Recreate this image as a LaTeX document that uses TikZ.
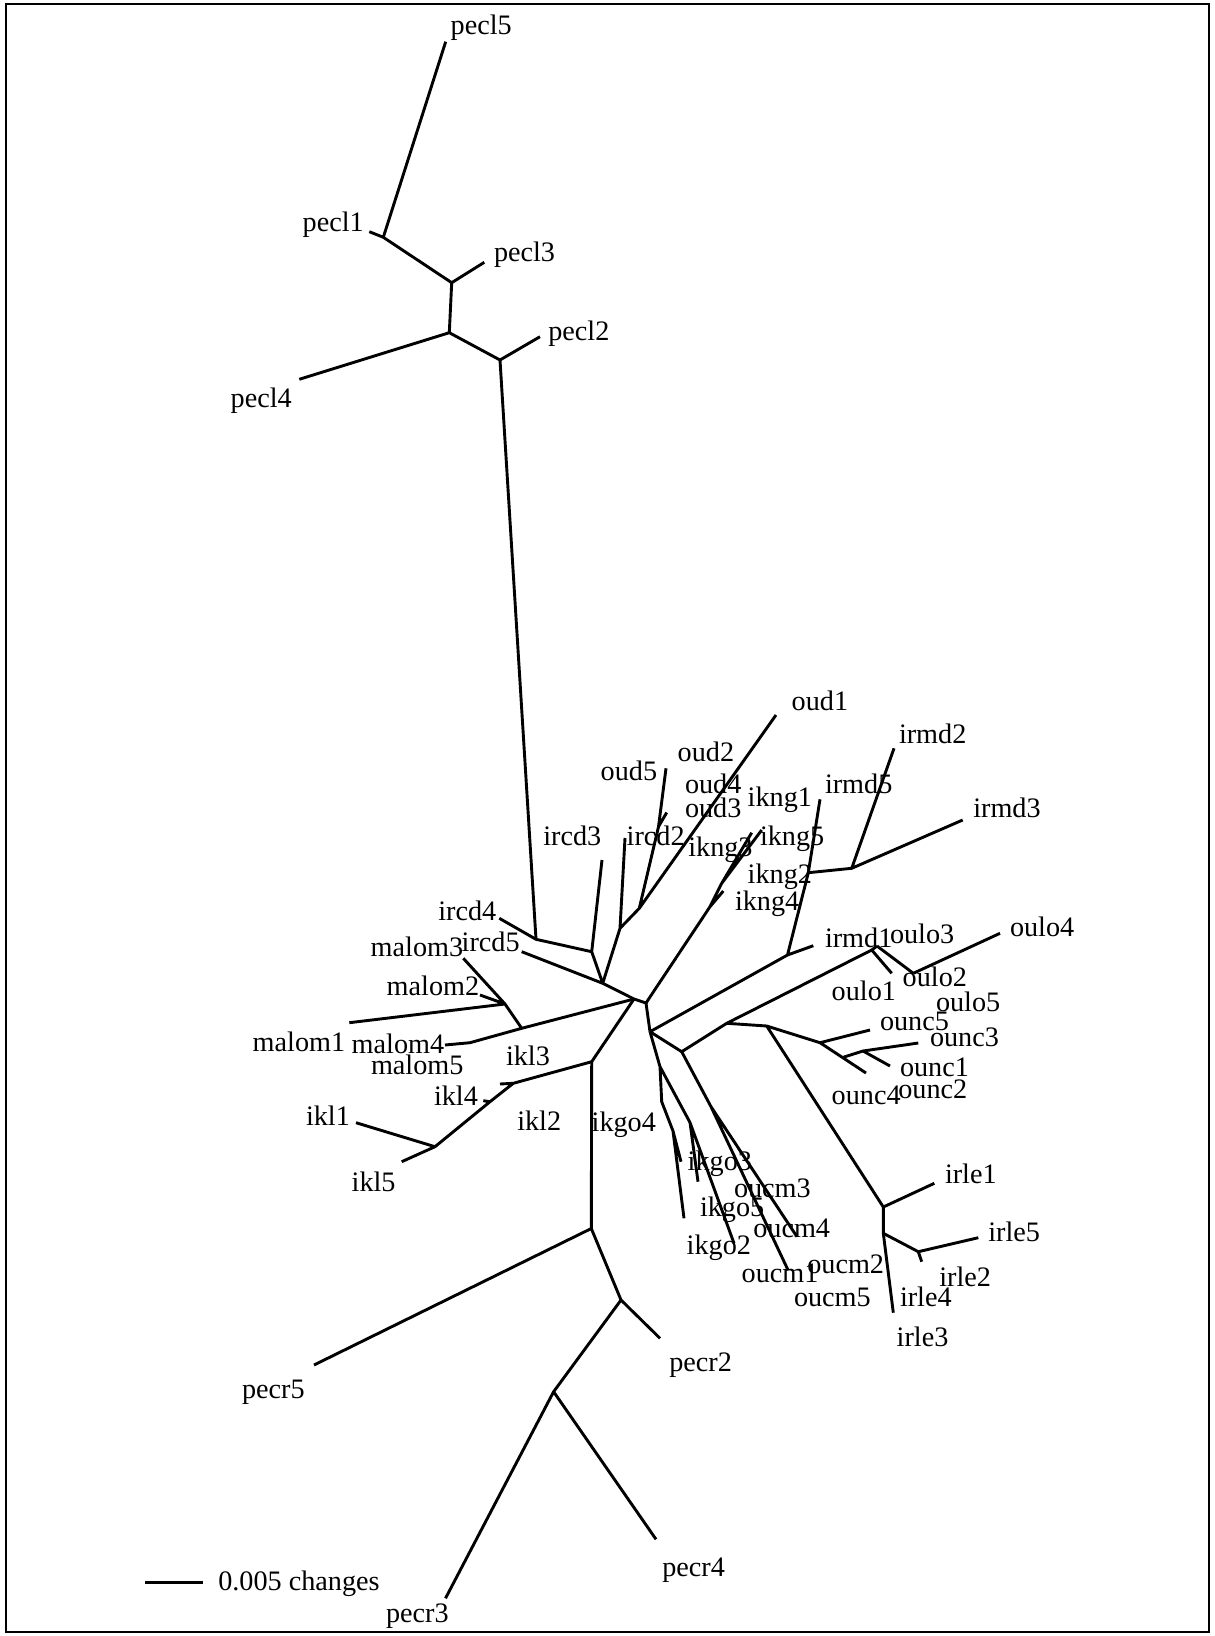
\documentclass[tikz,border=0pt]{standalone}
\usepackage{fontspec}
\setmainfont{Liberation Serif}
\begin{document}
\begin{tikzpicture}[x=0.5pt,y=-0.5pt,
  br/.style={line width=1.45pt},
  lab/.style={anchor=base west,inner sep=0pt,outer sep=0pt,font=\fontsize{14.1pt}{16pt}\selectfont}]
\useasboundingbox (0,0) rectangle (1214,1636);
\draw[line width=0.8pt] (6,4) rectangle (1209,1632);
% top cluster
\coordinate (pecl5t) at (445.7,41.7);
\coordinate (c1) at (383.3,237.3);
\coordinate (pecl1t) at (369.3,231.7);
\coordinate (c2) at (451.7,282.7);
\coordinate (pecl3t) at (484.3,262.3);
\coordinate (c3) at (449.3,332.7);
\coordinate (pecl4t) at (299.3,379.3);
\coordinate (c4) at (500,360);
\coordinate (pecl2t) at (540,336.7);
\coordinate (D) at (536,939.3);
\coordinate (ircd4t) at (499.3,918.3);
\coordinate (E) at (591.7,951.7);
\coordinate (ircd3t) at (602,860);
\coordinate (F) at (602.7,983.3);
\coordinate (ircd5t) at (521.7,951.7);
\coordinate (G) at (620,928.3);
\coordinate (ircd2t) at (625,838);
\coordinate (H) at (639.3,908.3);
\coordinate (I) at (658.5,826.7);
\coordinate (oud5t) at (666,768.3);
\coordinate (oudst) at (666.7,812.5);
\coordinate (oud1t) at (776,715);
\coordinate (P) at (634,999);
\coordinate (J) at (646,1003);
\coordinate (K1) at (710,906.7);
\coordinate (ikng4t) at (723.3,891);
\coordinate (K2) at (721.7,883.3);
\coordinate (ikngat) at (751.7,832.7);
\coordinate (ikngbt) at (761.7,830);
\coordinate (Q) at (650,1031.7);
\coordinate (L) at (787.5,955);
\coordinate (irmd1t) at (813.3,945.7);
\coordinate (N) at (808.3,872.7);
\coordinate (irmd5t) at (820,799.3);
\coordinate (M) at (851.7,868.3);
\coordinate (irmd2t) at (894,748.3);
\coordinate (irmd3t) at (962.7,820);
\coordinate (R) at (681.7,1051.7);
\coordinate (X) at (726.7,1023.3);
\coordinate (O1) at (871.7,950);
\coordinate (oulo1t) at (891.7,973.3);
\coordinate (O2) at (877,946);
\coordinate (O3) at (913.3,973.3);
\coordinate (oulo4t) at (1000,933.3);
\coordinate (W) at (766.7,1026);
\coordinate (Y) at (820,1042.7);
\coordinate (ounc5t) at (870,1030);
\coordinate (Z) at (842.5,1057.5);
\coordinate (ounc4t) at (866,1073);
\coordinate (Z2) at (863,1051);
\coordinate (ounc3t) at (918.3,1043);
\coordinate (ounc1t) at (890,1066);
\coordinate (Ir1) at (883.3,1207);
\coordinate (irle1t) at (934.3,1183.3);
\coordinate (Ir2) at (883.3,1233.3);
\coordinate (Ir3) at (918.3,1251.7);
\coordinate (irle5t) at (978.3,1237.7);
\coordinate (irle2t) at (921.7,1261.7);
\coordinate (irle3t) at (893.3,1312.7);
\coordinate (S) at (660,1066.7);
\coordinate (T) at (661.7,1101.7);
\coordinate (T2) at (673,1131);
\coordinate (ikgoat) at (681,1161.7);
\coordinate (ikgobt) at (684,1218.3);
\coordinate (U) at (690,1122.5);
\coordinate (ikgoct) at (698,1181.7);
\coordinate (ikgodt) at (734,1243.3);
\coordinate (V) at (711,1106.7);
\coordinate (oucm1t) at (788,1270);
\coordinate (oucm4t) at (797,1236.7);
\coordinate (Ma) at (521.7,1028.3);
\coordinate (Mb) at (505,1004);
\coordinate (malom3t) at (463.3,958.3);
\coordinate (malom1t) at (349.3,1022.7);
\coordinate (malom2t) at (480,995);
\coordinate (Mc) at (470,1042.7);
\coordinate (malom4t) at (445,1045);
\coordinate (Ka) at (591.7,1061.7);
\coordinate (Kb) at (513.3,1083.3);
\coordinate (ikl3t) at (500,1084);
\coordinate (Kc) at (490,1101.7);
\coordinate (ikl4t) at (483.3,1100.7);
\coordinate (Kd) at (435,1146.7);
\coordinate (ikl1t) at (356,1122.7);
\coordinate (ikl5t) at (401.7,1161.7);
\coordinate (Pa) at (591.3,1228.5);
\coordinate (pecr5t) at (314,1365);
\coordinate (Pb) at (621,1300);
\coordinate (pecr2t) at (660,1338.3);
\coordinate (Pc) at (553.6,1391.7);
\coordinate (pecr4t) at (656,1539.3);
\coordinate (pecr3t) at (445.5,1598.3);
\coordinate (sbL) at (145,1582.7);
\coordinate (sbR) at (203,1582.7);
% branches
\draw[br] (pecl5t)--(c1) (pecl1t)--(c1) (c1)--(c2) (c2)--(pecl3t) (c2)--(c3) (c3)--(pecl4t) (c3)--(c4) (c4)--(pecl2t) (c4)--(D);
\draw[br] (D)--(ircd4t) (D)--(E) (E)--(ircd3t) (E)--(F) (F)--(ircd5t) (F)--(G) (G)--(ircd2t) (G)--(H) (H)--(I) (I)--(oud5t) (I)--(oudst) (H)--(oud1t);
\draw[br] (F)--(P) (P)--(J) (J)--(K1) (K1)--(ikng4t) (K1)--(K2) (K2)--(ikngat) (K2)--(ikngbt);
\draw[br] (J)--(Q) (Q)--(L) (L)--(irmd1t) (L)--(N) (N)--(irmd5t) (N)--(M) (M)--(irmd2t) (M)--(irmd3t);
\draw[br] (Q)--(R) (R)--(X) (X)--(O1) (O1)--(oulo1t) (O1)--(O2) (O2)--(O3) (O3)--(oulo4t);
\draw[br] (X)--(W) (W)--(Y) (Y)--(ounc5t) (Y)--(Z) (Z)--(ounc4t) (Z)--(Z2) (Z2)--(ounc3t) (Z2)--(ounc1t);
\draw[br] (W)--(Ir1) (Ir1)--(irle1t) (Ir1)--(Ir2) (Ir2)--(Ir3) (Ir3)--(irle5t) (Ir3)--(irle2t) (Ir2)--(irle3t);
\draw[br] (Q)--(S) (S)--(T) (T)--(T2) (T2)--(ikgoat) (T2)--(ikgobt) (S)--(U) (U)--(ikgoct) (U)--(ikgodt);
\draw[br] (R)--(V) (V)--(oucm1t) (V)--(oucm4t);
\draw[br] (P)--(Ma) (Ma)--(Mb) (Mb)--(malom3t) (Mb)--(malom1t) (Mb)--(malom2t) (Ma)--(Mc) (Mc)--(malom4t);
\draw[br] (P)--(Ka) (Ka)--(Kb) (Kb)--(ikl3t) (Kb)--(Kc) (Kc)--(ikl4t) (Kc)--(Kd) (Kd)--(ikl1t) (Kd)--(ikl5t);
\draw[br] (Ka)--(Pa) (Pa)--(pecr5t) (Pa)--(Pb) (Pb)--(pecr2t) (Pb)--(Pc) (Pc)--(pecr4t) (Pc)--(pecr3t);
\draw[br] (sbL)--(sbR);
% labels
\node[lab] (lpecl5) at (450.7,35) {pecl5};
\node[lab] (lpecl1) at (302.7,231.7) {pecl1};
\node[lab] (lpecl3) at (494,261.7) {pecl3};
\node[lab] (lpecl2) at (548.3,340.7) {pecl2};
\node[lab] (lpecl4) at (230.7,407.3) {pecl4};
\node[lab] (loud1) at (791.7,710.7) {oud1};
\node[lab] (loud2) at (677.7,761.7) {oud2};
\node[lab] (loud5) at (600.7,780) {oud5};
\node[lab] (loud4) at (685,793.3) {oud4};
\node[lab] (loud3) at (685,817.3) {oud3};
\node[lab] (likng1) at (747.7,806.7) {ikng1};
\node[lab] (lirmd2) at (899,743.3) {irmd2};
\node[lab] (lirmd5) at (825,793.3) {irmd5};
\node[lab] (lirmd3) at (973.3,817.3) {irmd3};
\node[lab] (lircd3) at (543.3,845) {ircd3};
\node[lab] (lircd2) at (626.7,845) {ircd2};
\node[lab] (likng3) at (688.3,856.7) {ikng3};
\node[lab] (likng5) at (760,845) {ikng5};
\node[lab] (likng2) at (747.7,883.3) {ikng2};
\node[lab] (likng4) at (735,910) {ikng4};
\node[lab] (lircd4) at (438.3,920) {ircd4};
\node[lab] (lircd5) at (461.7,951.7) {ircd5};
\node[lab] (lmalom3) at (370.7,956) {malom3};
\node[lab] (lmalom2) at (386.7,995) {malom2};
\node[lab] (lmalom1) at (252.7,1051.7) {malom1};
\node[lab] (lmalom4) at (351.7,1053.3) {malom4};
\node[lab] (lmalom5) at (371,1074) {malom5};
\node[lab] (likl3) at (506,1065) {ikl3};
\node[lab] (likl4) at (434,1105) {ikl4};
\node[lab] (likl1) at (306,1125) {ikl1};
\node[lab] (likl2) at (517.3,1130.7) {ikl2};
\node[lab] (likgo4) at (591.7,1131.7) {ikgo4};
\node[lab] (likl5) at (351.7,1191) {ikl5};
\node[lab] (lirmd1) at (825,947.7) {irmd1};
\node[lab] (loulo3) at (890,943.3) {oulo3};
\node[lab] (loulo4) at (1010,936.7) {oulo4};
\node[lab] (loulo2) at (902.7,986) {oulo2};
\node[lab] (loulo1) at (831.7,1000.7) {oulo1};
\node[lab] (loulo5) at (936,1011.7) {oulo5};
\node[lab] (lounc5) at (880,1030) {ounc5};
\node[lab] (lounc3) at (930,1046.7) {ounc3};
\node[lab] (lounc1) at (900,1076) {ounc1};
\node[lab] (lounc2) at (898.3,1098.3) {ounc2};
\node[lab] (lounc4) at (831.7,1104.3) {ounc4};
\node[lab] (likgo3) at (687.7,1170.7) {ikgo3};
\node[lab] (loucm3) at (734,1197.3) {oucm3};
\node[lab] (lirle1) at (945,1183.3) {irle1};
\node[lab] (likgo5) at (700,1216.7) {ikgo5};
\node[lab] (loucm4) at (753.3,1237.3) {oucm4};
\node[lab] (lirle5) at (988.3,1241.7) {irle5};
\node[lab] (likgo2) at (686.7,1254) {ikgo2};
\node[lab] (loucm2) at (807.3,1273.3) {oucm2};
\node[lab] (loucm1) at (741.7,1282.7) {oucm1};
\node[lab] (lirle2) at (939.3,1286.7) {irle2};
\node[lab] (loucm5) at (794,1306) {oucm5};
\node[lab] (lirle4) at (900,1306.7) {irle4};
\node[lab] (lirle3) at (896.7,1346) {irle3};
\node[lab] (lpecr5) at (242,1398.3) {pecr5};
\node[lab] (lpecr2) at (669.3,1371.7) {pecr2};
\node[lab] (lpecr4) at (662.3,1576.7) {pecr4};
\node[lab] (lpecr3) at (386,1622) {pecr3};
\node[lab] (lscale) at (218.3,1590.7) {0.005 changes};
\end{tikzpicture}
\end{document}
